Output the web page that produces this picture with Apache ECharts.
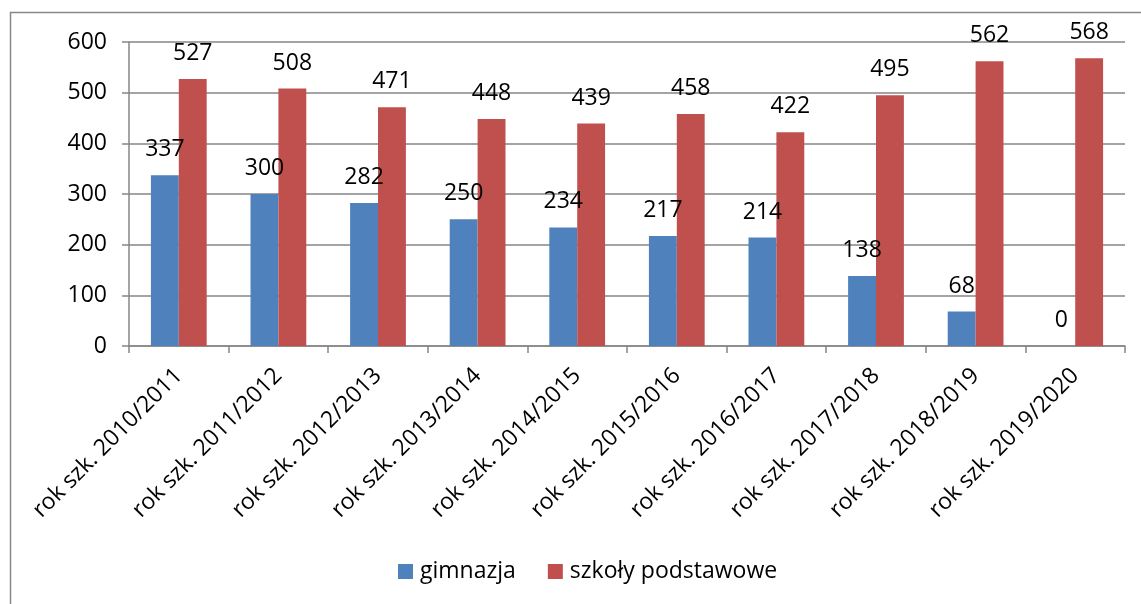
<!DOCTYPE html>
<html>
<head>
<meta charset="utf-8">
<script src="https://cdn.jsdelivr.net/npm/echarts@6/dist/echarts.min.js"></script>
<style>
  html, body { margin: 0; padding: 0; background: #fff; }
  #chart { width: 1141px; height: 604px; }
</style>
</head>
<body>
<div id="chart"></div>
<script>
// lata szkolne
var lata = ['rok szk. 2010/2011', 'rok szk. 2011/2012', 'rok szk. 2012/2013', 'rok szk. 2013/2014',
    'rok szk. 2014/2015', 'rok szk. 2015/2016', 'rok szk. 2016/2017', 'rok szk. 2017/2018',
    'rok szk. 2018/2019', 'rok szk. 2019/2020'];

// liczby uczniow
var gimnazja = [337, 300, 282, 250, 234, 217, 214, 138, 68, 0];
var podstawowe = [527, 508, 471, 448, 439, 458, 422, 495, 562, 568];

var font = 'Open Sans';

var chart = echarts.init(document.getElementById('chart'));

var labelStyle = {
    show: true,
    position: 'top',
    distance: 14,
    color: '#000',
    fontFamily: font,
    fontSize: 23
};

chart.setOption({
    animation: false,
    graphic: [{
        type: 'rect',
        shape: { x: 10.5, y: 12.5, width: 1140, height: 600 },
        style: { fill: 'none', stroke: '#888', lineWidth: 1.5 }
    }],
    legend: {
        bottom: 16,
        left: 393,
        itemWidth: 15,
        itemHeight: 15,
        itemGap: 32,
        icon: 'rect',
        textStyle: { fontFamily: font, fontSize: 23, color: '#000', padding: [0, 0, 0, 2] },
        data: ['gimnazja', 'szkoły podstawowe']
    },
    grid: { left: 129, right: 16, top: 42, bottom: 258 },
    xAxis: {
        type: 'category',
        data: lata,
        axisLine: { lineStyle: { color: '#868686', width: 1.5 } },
        axisTick: { show: true, length: 7, lineStyle: { color: '#868686', width: 1.5 } },
        axisLabel: {
            rotate: 45,
            margin: 26,
            color: '#000',
            fontFamily: font,
            fontSize: 23,
            interval: 0
        }
    },
    yAxis: {
        type: 'value',
        min: 0,
        max: 600,
        interval: 100,
        axisLine: { show: true, lineStyle: { color: '#868686', width: 1.5 } },
        axisTick: { show: true, length: 7, lineStyle: { color: '#868686', width: 1.5 } },
        splitLine: { lineStyle: { color: '#868686', width: 1.5 } },
        axisLabel: {
            margin: 22,
            color: '#000',
            fontFamily: font,
            fontSize: 23
        }
    },
    series: [{
        name: 'gimnazja',
        type: 'bar',
        data: gimnazja,
        barGap: '0%',
        barCategoryGap: '44%',
        itemStyle: { color: '#4F81BD' },
        label: labelStyle
    }, {
        name: 'szkoły podstawowe',
        type: 'bar',
        data: podstawowe,
        barGap: '0%',
        barCategoryGap: '44%',
        itemStyle: { color: '#C0504D' },
        label: labelStyle
    }]
});
</script>
</body>
</html>
